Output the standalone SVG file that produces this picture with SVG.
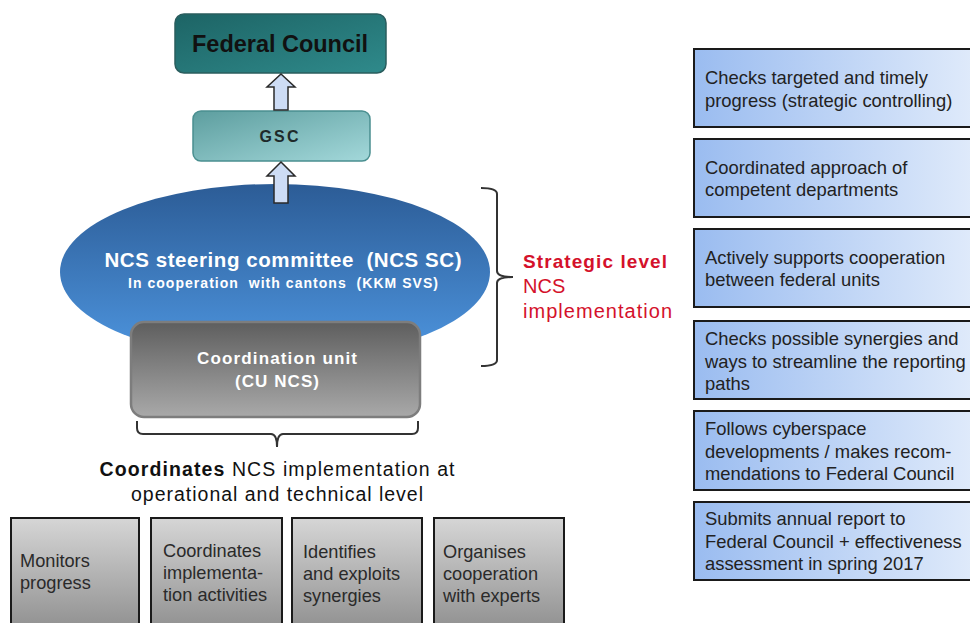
<svg xmlns="http://www.w3.org/2000/svg" width="970" height="623" viewBox="0 0 970 623">
  <defs>
    <linearGradient id="gFC" x1="0" y1="0" x2="1" y2="1">
      <stop offset="0" stop-color="#1d6465"/>
      <stop offset="1" stop-color="#2f8a8b"/>
    </linearGradient>
    <linearGradient id="gGSC" x1="0" y1="0" x2="1" y2="1">
      <stop offset="0" stop-color="#5d9e9f"/>
      <stop offset="1" stop-color="#a3d8da"/>
    </linearGradient>
    <linearGradient id="gSC" x1="0" y1="0" x2="0" y2="1">
      <stop offset="0" stop-color="#2c5c96"/>
      <stop offset="1" stop-color="#4e96e0"/>
    </linearGradient>
    <linearGradient id="gCU" x1="0" y1="0" x2="0" y2="1">
      <stop offset="0" stop-color="#5e5e5e"/>
      <stop offset="1" stop-color="#a9a9a9"/>
    </linearGradient>
    <linearGradient id="gTask" x1="0" y1="0" x2="0" y2="1">
      <stop offset="0" stop-color="#d6d6d6"/>
      <stop offset="1" stop-color="#8e8e8e"/>
    </linearGradient>
    <linearGradient id="gRole" x1="0" y1="0" x2="1" y2="0">
      <stop offset="0" stop-color="#9abcf0"/>
      <stop offset="1" stop-color="#e2ecfb"/>
    </linearGradient>
    <style>
      .sans { font-family: "Liberation Sans", Arial, sans-serif; }
      .role rect { fill: url(#gRole); stroke: #1a1a1a; stroke-width: 2; }
      .role text { font-family: "Liberation Sans", Arial, sans-serif; font-size: 18.4px; fill: #222; }
      .task rect { fill: url(#gTask); stroke: #1a1a1a; stroke-width: 2; }
      .task text { font-family: "Liberation Sans", Arial, sans-serif; font-size: 18.2px; fill: #2a2a2a; }
      .up { fill: #cddcf5; stroke: #2a2a2a; stroke-width: 1.5; stroke-linejoin: miter; }
      .brace { fill: none; stroke: #333; stroke-width: 2; }
      .red { fill: #d4112b; }
    </style>
  </defs>

  <!-- Federal Council -->
  <g id="federal-council">
    <rect x="175" y="14" width="211" height="59" rx="9" fill="url(#gFC)" stroke="#2a5d5e" stroke-width="1.5"/>
    <text class="sans" x="280" y="52" text-anchor="middle" font-size="23.5" font-weight="bold" fill="#111" textLength="176">Federal Council</text>
  </g>

  <!-- GSC -->
  <g id="gsc">
    <rect x="193" y="111" width="177" height="50" rx="8" fill="url(#gGSC)" stroke="#4a8f90" stroke-width="1.5"/>
    <text class="sans" x="279" y="142" text-anchor="middle" font-size="16" font-weight="bold" fill="#1e2a2a" textLength="39">GSC</text>
  </g>

  <!-- NCS steering committee -->
  <g id="ncs-sc">
    <ellipse cx="275" cy="272" rx="215" ry="88" fill="url(#gSC)"/>
    <text class="sans" x="283" y="267" text-anchor="middle" font-size="20.5" font-weight="bold" fill="#fff" textLength="357" xml:space="preserve">NCS steering committee  (NCS SC)</text>
    <text class="sans" x="283" y="288" text-anchor="middle" font-size="14" font-weight="bold" fill="#fff" textLength="310" xml:space="preserve">In cooperation  with cantons  (KKM SVS)</text>
  </g>

  <!-- Coordination unit -->
  <g id="cu-ncs">
    <rect x="131" y="322" width="289" height="95" rx="13" fill="url(#gCU)" stroke="#7d7d7d" stroke-width="2.5"/>
    <text class="sans" x="277" y="364" text-anchor="middle" font-size="17" font-weight="bold" fill="#fff" textLength="160">Coordination unit</text>
    <text class="sans" x="277" y="387" text-anchor="middle" font-size="17" font-weight="bold" fill="#fff" textLength="84">(CU NCS)</text>
  </g>

  <!-- Connectors: block arrows and braces -->
  <g id="connectors">
    <path class="up" d="M281,74 L295,87 L288,87 L288,110 L274,110 L274,87 L267,87 Z"/>
    <path class="up" d="M281,162 L295,176 L288,176 L288,203 L274,203 L274,176 L267,176 Z"/>
    <!-- brace grouping the strategic level -->
    <path class="brace" d="M481,188 Q497,188 497,194 L497,271 Q497,277 513,277 Q497,277 497,283 L497,360 Q497,366 481,366"/>
    <!-- brace under the coordination unit -->
    <path class="brace" d="M137,421 L137,428 Q137,434 143,434 L271,434 Q277,434 277,447 Q277,434 283,434 L412,434 Q418,434 418,428 L418,421"/>
  </g>

  <!-- Strategic level label -->
  <g id="strategic-level">
    <text class="sans red" x="523" y="268" font-size="19" font-weight="bold" textLength="144">Strategic level</text>
    <text class="sans red" x="523" y="293" font-size="20">NCS</text>
    <text class="sans red" x="523" y="318" font-size="20" textLength="149">implementation</text>
  </g>

  <!-- Operational level label -->
  <g id="operational-level">
    <text class="sans" x="277" y="476" text-anchor="middle" font-size="19.5" fill="#111" textLength="355"><tspan font-weight="bold">Coordinates</tspan> NCS implementation at</text>
    <text class="sans" x="277" y="501" text-anchor="middle" font-size="19.5" fill="#111" textLength="292">operational and technical level</text>
  </g>

  <!-- Operational tasks -->
  <g id="task-monitor" class="task">
    <rect x="11" y="518" width="128" height="115"/>
    <text x="20" y="567">Monitors</text>
    <text x="20" y="589">progress</text>
  </g>
  <g id="task-coordinate" class="task">
    <rect x="151" y="518" width="131" height="115"/>
    <text x="163" y="557">Coordinates</text>
    <text x="163" y="579">implementa-</text>
    <text x="163" y="601">tion activities</text>
  </g>
  <g id="task-synergies" class="task">
    <rect x="292" y="518" width="130" height="115"/>
    <text x="303" y="558">Identifies</text>
    <text x="303" y="580">and exploits</text>
    <text x="303" y="602">synergies</text>
  </g>
  <g id="task-experts" class="task">
    <rect x="434" y="518" width="130" height="115"/>
    <text x="443" y="558">Organises</text>
    <text x="443" y="580">cooperation</text>
    <text x="443" y="602">with experts</text>
  </g>

  <!-- Steering committee roles -->
  <g id="role-controlling" class="role">
    <rect x="694" y="49" width="290" height="78"/>
    <text x="705" y="84">Checks targeted and timely</text>
    <text x="705" y="107">progress (strategic controlling)</text>
  </g>
  <g id="role-departments" class="role">
    <rect x="694" y="139" width="290" height="78"/>
    <text x="705" y="174">Coordinated approach of</text>
    <text x="705" y="196">competent departments</text>
  </g>
  <g id="role-cooperation" class="role">
    <rect x="694" y="229" width="290" height="78"/>
    <text x="705" y="264">Actively supports cooperation</text>
    <text x="705" y="286">between federal units</text>
  </g>
  <g id="role-reporting" class="role">
    <rect x="694" y="321" width="290" height="78"/>
    <text x="705" y="345">Checks possible synergies and</text>
    <text x="705" y="368">ways to streamline the reporting</text>
    <text x="705" y="390">paths</text>
  </g>
  <g id="role-cyberspace" class="role">
    <rect x="694" y="411" width="290" height="79"/>
    <text x="705" y="435">Follows cyberspace</text>
    <text x="705" y="458">developments / makes recom-</text>
    <text x="705" y="480">mendations to Federal Council</text>
  </g>
  <g id="role-annual-report" class="role">
    <rect x="694" y="502" width="290" height="78"/>
    <text x="705" y="525">Submits annual report to</text>
    <text x="705" y="548">Federal Council + effectiveness</text>
    <text x="705" y="570">assessment in spring 2017</text>
  </g>
</svg>
